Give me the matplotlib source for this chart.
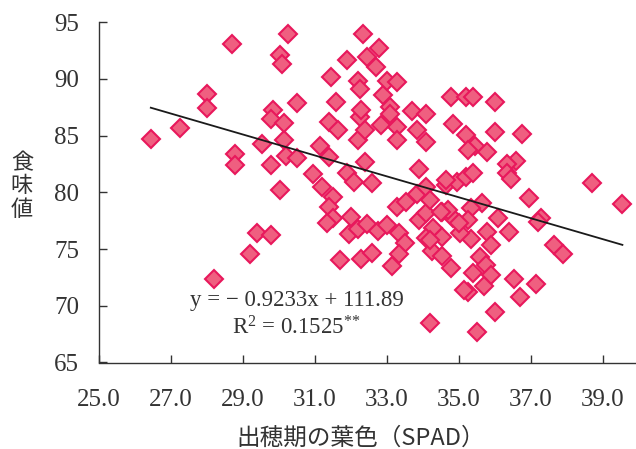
import matplotlib
matplotlib.use("Agg")
import matplotlib.pyplot as plt
import numpy as np

plt.rcParams['font.family'] = ['Liberation Serif', 'Noto Sans CJK JP', 'DejaVu Sans']
plt.rcParams['mathtext.fontset'] = 'custom'
plt.rcParams['mathtext.rm'] = 'Liberation Serif'
plt.rcParams['mathtext.default'] = 'regular'

# ---- data (leaf colour SPAD at heading vs. eating-quality score) ----
spad = [
    26.45, 27.25, 28.0, 28.0, 28.7, 28.8, 28.8, 28.2, 29.2, 29.4,
    29.8, 29.55, 29.8, 29.85, 29.8, 30.05, 30.1, 30.25, 30.05, 30.15,
    30.15, 30.2, 30.5, 30.5, 31.15, 31.4, 30.95, 31.2, 31.5, 31.4,
    31.65, 31.6, 31.45, 31.9, 31.9, 32.1, 32.2, 32.4, 32.25, 32.4,
    32.3, 32.2, 32.25, 32.35, 32.45, 32.7, 32.8, 32.6, 32.9, 33.0,
    33.3, 33.1, 33.1, 32.85, 33.3, 33.3, 33.7, 34.1, 33.85, 34.1,
    33.9, 33.85, 34.1, 34.65, 34.95, 34.8, 34.85, 35.2, 35.4, 36.0,
    35.2, 36.0, 36.75, 35.45, 35.8, 35.25, 36.6, 36.35, 36.35, 36.45,
    35.2, 35.4, 38.7, 36.95, 39.55, 35.65, 35.35, 35.25, 36.1, 36.4,
    35.8, 35.35, 35.9, 37.3, 37.2, 37.65, 37.9, 35.6, 35.75, 35.9,
    35.4, 35.7, 35.25, 36.55, 37.15, 36.7, 36.0, 35.5, 34.2, 31.4,
    31.5, 31.35, 32.0, 31.95, 32.2, 32.45, 32.75, 33.0, 33.35, 33.5,
    33.35, 33.3, 33.55, 33.9, 34.1, 34.2, 34.55, 34.3, 34.1, 34.55,
    34.85, 34.25, 34.55, 34.8, 31.7, 32.3, 32.6, 33.15, 34.7, 34.65,
    35.05, 34.2, 35.15, 34.5, 35.0,
]
score = [
    84.75, 85.7, 88.65, 87.45, 93.1, 83.35, 82.4, 72.4, 74.55, 76.4,
    76.2, 84.25, 82.45, 87.3, 86.45, 92.1, 91.3, 93.95, 80.25, 84.65,
    86.15, 83.2, 83.0, 87.9, 84.1, 83.15, 81.65, 80.5, 79.6, 86.25,
    85.5, 88.0, 90.2, 91.65, 81.75, 80.95, 84.6, 82.7, 86.65, 85.5,
    87.3, 89.8, 89.1, 93.95, 91.9, 91.1, 92.75, 80.85, 88.6, 89.8,
    89.75, 87.5, 86.95, 85.95, 85.8, 84.6, 87.2, 86.95, 85.5, 84.45,
    82.1, 79.9, 80.5, 80.65, 80.95, 88.45, 86.0, 88.45, 88.45, 87.95,
    85.05, 85.3, 85.15, 84.1, 83.6, 83.7, 82.8, 82.5, 81.7, 81.2,
    81.4, 81.7, 80.8, 79.5, 79.0, 79.05, 78.6, 77.55, 77.7, 76.5,
    76.5, 75.85, 75.35, 77.7, 77.4, 75.35, 74.6, 74.3, 73.6, 72.7,
    72.85, 71.75, 71.2, 72.4, 71.9, 70.8, 69.45, 67.65, 68.45, 78.75,
    77.7, 77.3, 77.85, 76.3, 76.8, 77.2, 76.6, 77.1, 76.45, 75.5,
    74.55, 78.75, 79.15, 77.6, 78.15, 79.3, 78.3, 76.9, 76.0, 76.1,
    77.7, 74.85, 74.4, 73.3, 74.0, 74.15, 74.7, 73.5, 78.45, 81.1,
    76.4, 75.8, 71.4, 78.3, 77.3,
]
slope = -0.9233
intercept = 111.89
r2_text = "0.1525"
x_ticks = [25.0, 27.0, 29.0, 31.0, 33.0, 35.0, 37.0, 39.0]
y_ticks = [65, 70, 75, 80, 85, 90, 95]
x_label = "出穂期の葉色（SPAD）"
y_label = "食\n味\n値"

W, H = 636, 449
fig = plt.figure(figsize=(W / 100, H / 100), dpi=100)
left_px, right_px, top_px, bot_px = 98.6, 638.6, 22.3, 362.5
ax = fig.add_axes([left_px / W, (H - bot_px) / H,
                   (right_px - left_px) / W, (bot_px - top_px) / H])

ax.plot(spad, score, linestyle='none', marker='D', markersize=8.8,
        markerfacecolor='#EF5F80', markeredgecolor='#E8185C',
        markeredgewidth=1.5, zorder=3)

xs = np.array([min(spad), max(spad)])
ax.plot(xs, slope * xs + intercept, color='#1a1a1a', linewidth=1.3, zorder=4)

ax.set_xlim(25, 40)
ax.set_ylim(65, 95)
ax.set_xticks(x_ticks)
ax.set_xticklabels([f"{t:.1f}" for t in x_ticks])
ax.set_yticks(y_ticks)
ax.set_yticklabels([str(t) for t in y_ticks])

for side in ('top', 'right'):
    ax.spines[side].set_visible(False)
for side in ('left', 'bottom'):
    ax.spines[side].set_color('#333333')
    ax.spines[side].set_linewidth(1.0)

ax.tick_params(axis='both', direction='in', length=6, width=1.0,
               color='#333333', labelcolor='#333333', labelsize=18)
ax.tick_params(axis='x', pad=19)
ax.tick_params(axis='y', pad=14)

ax.text(30.5, 70.45, "y = − 0.9233x + 111.89", ha='center', va='center',
        fontsize=16.5, color='#333333')
ax.text(30.5, 68.05, "R$^{2}$ = " + r2_text + "$^{{*}{*}}$", ha='center', va='center',
        fontsize=16.5, color='#333333')

fig.text(361 / W, 1 - 438 / H, x_label, ha='center', va='center', fontsize=17,
         color='#333333', family=['Noto Sans CJK JP', 'Liberation Serif'])
fig.text(22 / W, 1 - 186 / H, y_label, ha='center', va='center', fontsize=16,
         color='#333333', linespacing=1.0,
         family=['Noto Sans CJK JP', 'Liberation Serif'])

fig.savefig("out.png", dpi=100)
